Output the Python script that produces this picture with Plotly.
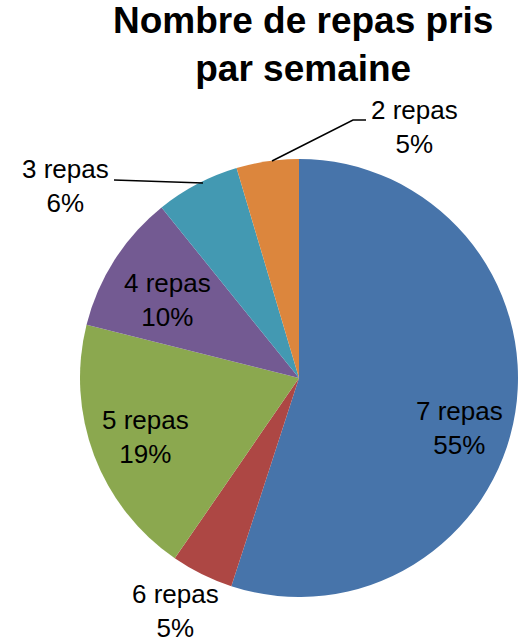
import plotly.graph_objects as go

# ---- data ----
labels = ["7 repas", "6 repas", "5 repas", "4 repas", "3 repas", "2 repas"]
values = [55.0, 4.6, 19.3, 10.3, 6.2, 4.6]
colors = ["#4774AA", "#AD4744", "#8BA84F", "#735A92", "#4399B2", "#DC863D"]
title_text = "Nombre de repas pris<br>par semaine"

# label block centres (pixels) for each slice label
label_pos = {
    "7 repas": (459, 428),
    "6 repas": (175, 611),
    "5 repas": (145, 437),
    "4 repas": (167, 300),
    "3 repas": (65, 186),
    "2 repas": (414, 127),
}
# leader lines (pixels)
leaders = {
    "2 repas": [(272, 161), (353, 120), (366, 120)],
    "3 repas": [(114, 180), (203, 183)],
}

W, H = 518, 642
FONT = "Liberation Sans, Arial, sans-serif"


def px(x):
    return x / W


def py(y):
    return 1 - y / H


total = sum(values)

fig = go.Figure(
    go.Pie(
        labels=labels,
        values=values,
        sort=False,
        direction="clockwise",
        rotation=0,
        marker=dict(colors=colors, line=dict(width=0)),
        textinfo="none",
        hoverinfo="label+percent",
        showlegend=False,
        domain=dict(x=[px(80), 1.0], y=[py(598), py(158)]),
    )
)

annotations = [
    dict(
        text="<b>" + title_text + "</b>",
        x=px(303), y=py(44), xref="paper", yref="paper",
        xanchor="center", yanchor="middle", showarrow=False,
        font=dict(family=FONT, size=37, color="#000000"),
    )
]
for lab, v in zip(labels, values):
    cx, cy = label_pos[lab]
    annotations.append(
        dict(
            text=f"{lab}<br>{round(100 * v / total)}%",
            x=px(cx), y=py(cy), xref="paper", yref="paper",
            xanchor="center", yanchor="middle", showarrow=False,
            font=dict(family=FONT, size=26, color="#000000"),
        )
    )

shapes = []
for lab, pts in leaders.items():
    path = "M " + " L ".join(f"{px(x)},{py(y)}" for x, y in pts)
    shapes.append(
        dict(type="path", path=path, xref="paper", yref="paper",
             line=dict(color="#000000", width=1.5))
    )

fig.update_layout(
    width=W, height=H,
    margin=dict(l=0, r=0, t=0, b=0),
    paper_bgcolor="white",
    plot_bgcolor="white",
    annotations=annotations,
    shapes=shapes,
)

fig.write_html(
    "out.html",
    config={"displayModeBar": False},
    post_script="document.body.style.margin='0px';document.body.style.overflow='hidden';",
)
